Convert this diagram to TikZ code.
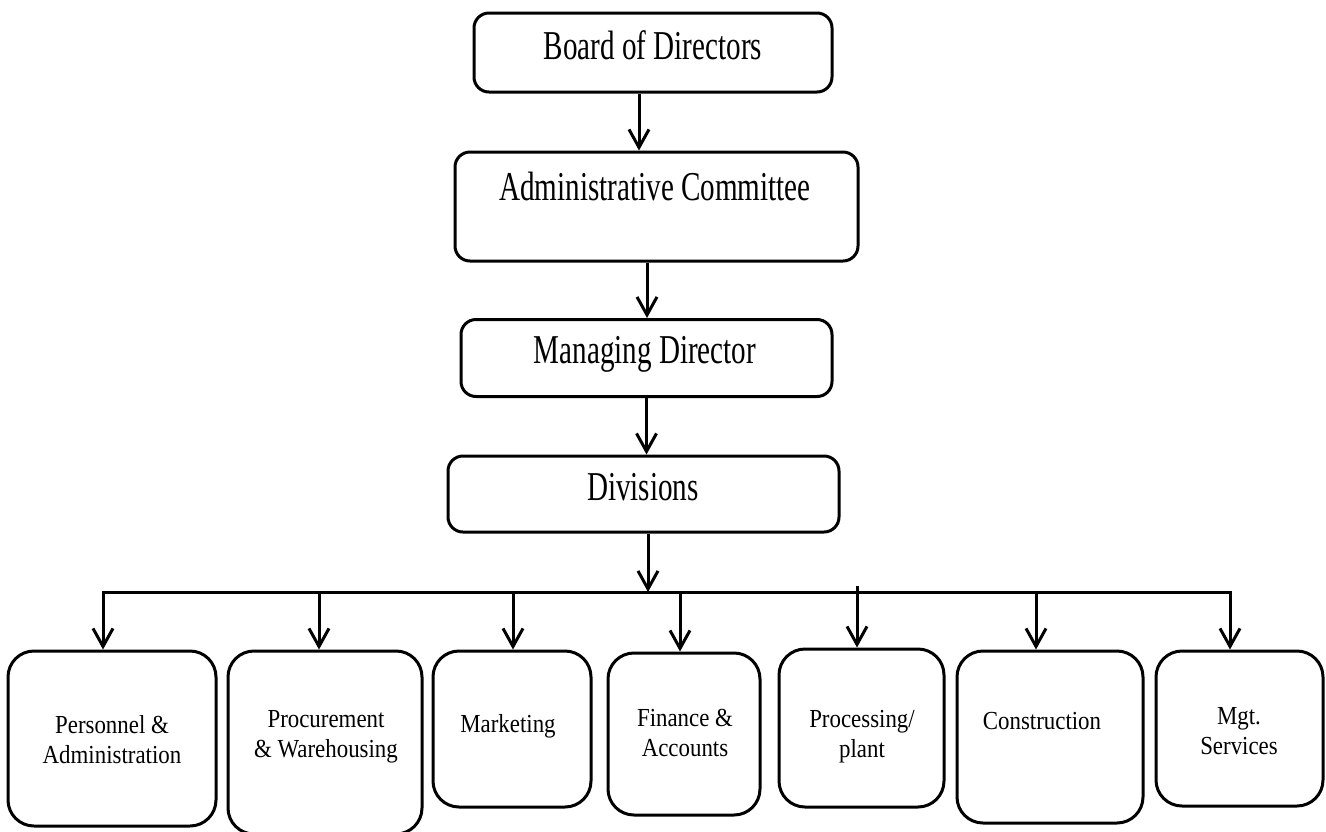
\documentclass[tikz,border=0pt]{standalone}
\usepackage{fontspec}
\setmainfont{Liberation Serif}
\newfontfamily\headfont[FakeStretch=0.71]{Liberation Serif}
\newfontfamily\unitfont[FakeStretch=0.88]{Liberation Serif}
\usetikzlibrary{arrows.meta}
\begin{document}
\begin{tikzpicture}[x=1pt,y=-1pt,
  box/.style={draw, line width=3pt, inner sep=0pt},
  headbox/.style={box, rounded corners=15pt},
  unitbox/.style={box, rounded corners=26pt},
  headtext/.style={font=\headfont\fontsize{41}{48}\selectfont, inner sep=0pt, anchor=base},
  unittext/.style={font=\unitfont\fontsize{26}{30}\selectfont, align=center, inner sep=0pt, anchor=base},
  conn/.style={line width=3pt},
  arr/.style={conn, -{Straight Barb[length=18pt,width=20pt]}}]

\useasboundingbox (0,0) rectangle (1326,831);

% top of the hierarchy
\node[headbox, minimum width=358pt, minimum height=79pt]  (bod) at (653,52.5) {};
\node[headbox, minimum width=403pt, minimum height=109pt] (adm) at (656.5,206.5) {};
\node[headbox, minimum width=371pt, minimum height=77pt]  (md)  at (646.5,358) {};
\node[headbox, minimum width=391pt, minimum height=76pt]  (div) at (643.5,494) {};

\node[headtext] (bodt) at (653,59)  {Board of Directors};
\node[headtext] (admt) at (655,200) {Administrative Committee};
\node[headtext] (mdt)  at (645,363) {Managing Director};
\node[headtext] (divt) at (643,500) {Divisions};

% divisions
\node[unitbox, minimum width=208pt, minimum height=175pt] (p1) at (112,738.5) {};
\node[unitbox, minimum width=194pt, minimum height=183pt] (p2) at (325,742.5) {};
\node[unitbox, minimum width=158pt, minimum height=156pt] (p3) at (512,729) {};
\node[unitbox, minimum width=152pt, minimum height=162pt] (p4) at (684,734) {};
\node[unitbox, minimum width=165pt, minimum height=158pt] (p5) at (861.5,728) {};
\node[unitbox, minimum width=186pt, minimum height=172pt] (p6) at (1050,737) {};
\node[unitbox, minimum width=167pt, minimum height=155pt] (p7) at (1239.5,728.5) {};

% (base of a two-line label is the baseline of its last line)
\node[unittext] (p1t) at (112,763)  {Personnel \&\\Administration};
\node[unittext] (p2t) at (326,757)  {Procurement\\\& Warehousing};
\node[unittext] (p3t) at (508,732)  {Marketing};
\node[unittext] (p4t) at (685,756)  {Finance \&\\Accounts};
\node[unittext] (p5t) at (862,757)  {Processing/\\plant};
\node[unittext] (p6t) at (1042,729) {Construction};
\node[unittext] (p7t) at (1239,754) {Mgt.\\Services};

% vertical chain
\draw[arr] ([xshift=-14pt]bod.south) -- ([xshift=-14pt]bod.south |- adm.north);
\draw[arr] ([xshift=-9.5pt]adm.south) -- ([xshift=-9.5pt]adm.south |- md.north);
\draw[arr] (md.south) -- (md.south |- div.north);

% distribution bus
\coordinate (busL) at (103,592);
\coordinate (busR) at (1230,592);
\coordinate (hub)  at (648,592);
\coordinate (d2) at (319,592);
\coordinate (d3) at (513,592);
\coordinate (d4) at (680,592);
\coordinate (d5) at (857,586);
\coordinate (d6) at (1036,592);

\draw[arr] ([xshift=4.5pt]div.south) -- (hub);
\draw[conn, line cap=rect] (busL) -- (busR);
\draw[arr] (busL) -- (busL |- p1.north);
\draw[arr] (d2) -- (d2 |- p2.north);
\draw[arr] (d3) -- (d3 |- p3.north);
\draw[arr] (d4) -- (d4 |- p4.north);
\draw[arr] (d5) -- (d5 |- p5.north);
\draw[arr] (d6) -- (d6 |- p6.north);
\draw[arr] (busR) -- (busR |- p7.north);
\end{tikzpicture}
\end{document}
